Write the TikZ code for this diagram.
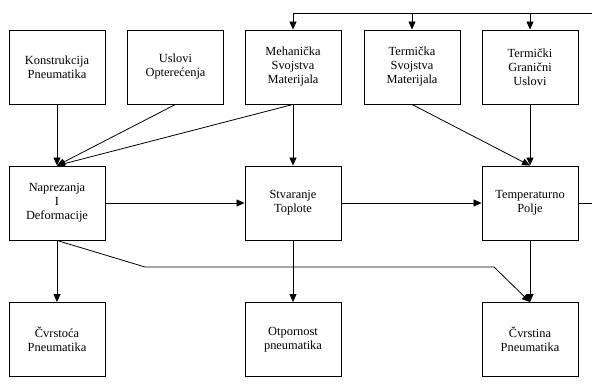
\documentclass[tikz,border=0pt]{standalone}
\usepackage{fontspec}
\setmainfont{Liberation Serif}
\usetikzlibrary{arrows.meta}
\begin{document}
\begin{tikzpicture}[x=1pt,y=-1pt,
  box/.style={draw=black,line width=0.9pt,minimum width=96pt,minimum height=74pt,inner sep=0pt,align=center,font=\fontsize{12.4}{14}\selectfont},
  arr/.style={-{Triangle[length=8pt,width=7pt]},line width=0.8pt},
  ln/.style={line width=0.8pt}]
\useasboundingbox (0,0) rectangle (592,387);
\node[box] (k) at (57,67) {Konstrukcija\\Pneumatika};
\node[box] (u) at (175.5,67) {Uslovi\\Opterećenja};
\node[box] (m) at (293,67) {Mehanička\\Svojstva\\Materijala};
\node[box] (t) at (412,67) {Termička\\Svojstva\\Materijala};
\node[box] (g) at (530,67) {Termički\\Granični\\Uslovi};
\node[box] (n) at (57,203) {Naprezanja\\I\\Deformacije};
\node[box] (s) at (293,203) {Stvaranje\\Toplote};
\node[box] (p) at (530,203) {Temperaturno\\Polje};
\node[box] (c) at (57,339.5) {Čvrstoća\\Pneumatika};
\node[box] (o) at (293,339.5) {Otpornost\\pneumatika};
\node[box] (v) at (530,339.5) {Čvrstina\\Pneumatika};
\coordinate (topR) at (592,13);
\coordinate (midR) at (592,203);
\coordinate (bend1) at (145,267);
\coordinate (bend2) at (494,267);
% top feedback line
\draw[ln] (topR) -- (293,13);
\draw[arr] (293,13) -- (m.north);
\draw[arr] (412,13) -- (t.north);
\draw[arr] (530,13) -- (g.north);
\draw[ln] (p.east) -- (midR);
% row1 -> row2
\draw[arr] (k.south) -- (n.north);
\draw[arr] (u.south) -- (n.north);
\draw[arr] (m.south) -- (n.north);
\draw[arr] (m.south) -- (s.north);
\draw[arr] (t.south) -- (p.north);
\draw[arr] (g.south) -- (p.north);
% row2 horizontal
\draw[arr] (n.east) -- (s.west);
\draw[arr] (s.east) -- (p.west);
% row2 -> row3
\draw[arr] (n.south) -- (c.north);
\draw[arr] (s.south) -- (o.north);
\draw[arr] (p.south) -- (v.north);
\draw[arr] (n.south) -- (bend1) -- (bend2) -- (v.north);
\end{tikzpicture}
\end{document}
